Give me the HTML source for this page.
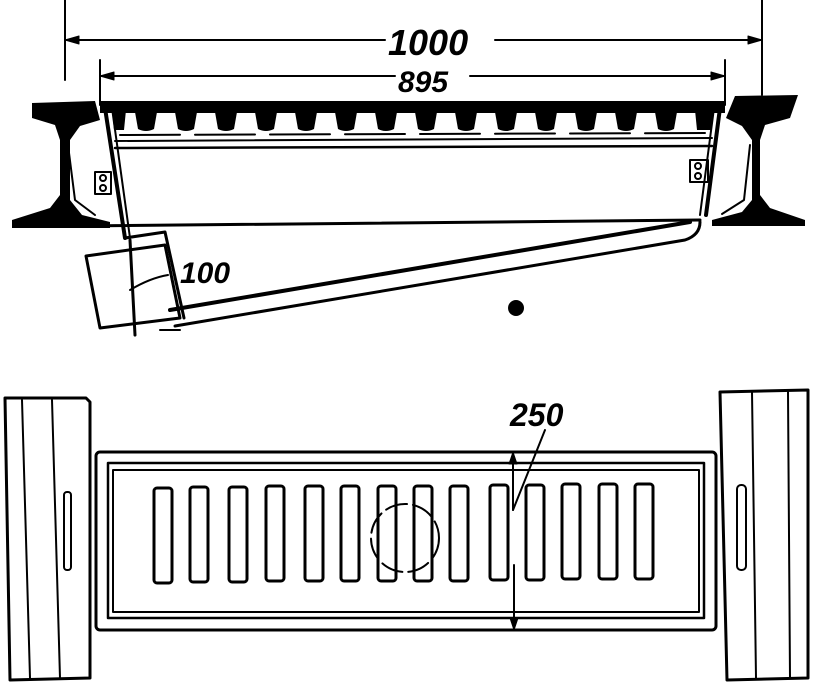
<!DOCTYPE html>
<html><head><meta charset="utf-8"><style>
html,body{margin:0;padding:0;background:#fff;}
svg{display:block;}
text{font-family:"Liberation Sans",sans-serif;font-style:italic;font-weight:bold;fill:#000;}
</style></head><body>
<svg width="816" height="690" viewBox="0 0 816 690" xmlns="http://www.w3.org/2000/svg" fill="none" stroke="#000" stroke-linecap="round" stroke-linejoin="round">
<!-- dimension 1000 -->
<line x1="65" y1="0" x2="65" y2="80" stroke-width="2"/>
<line x1="762" y1="0" x2="762" y2="95" stroke-width="2"/>
<line x1="65" y1="40" x2="385" y2="40" stroke-width="2"/>
<line x1="495" y1="40" x2="762" y2="40" stroke-width="2"/>
<path d="M65 40 l14 -4 v8z M762 40 l-14 -4 v8z" fill="#000"/>
<text x="388" y="55" font-size="36" stroke="none">1000</text>
<!-- dimension 895 -->
<line x1="100" y1="60" x2="100" y2="105" stroke-width="2"/>
<line x1="725" y1="60" x2="725" y2="105" stroke-width="2"/>
<line x1="100" y1="76" x2="395" y2="76" stroke-width="2"/>
<line x1="470" y1="76" x2="725" y2="76" stroke-width="2"/>
<path d="M100 76 l14 -4 v8z M725 76 l-14 -4 v8z" fill="#000"/>
<text x="398" y="92" font-size="30" stroke="none">895</text>
<!-- grate top bar with teeth -->
<g fill="#000" stroke="none">
<rect x="100" y="101" width="625" height="12"/>
<path d="M112 110 h14 l-2 20 h-10z"/>
<path d="M135 112 h22 l-3 17 q-8 4 -16 0z"/>
<path d="M175 112 h22 l-3 17 q-8 4 -16 0z"/>
<path d="M215 112 h22 l-3 17 q-8 4 -16 0z"/>
<path d="M255 112 h22 l-3 17 q-8 4 -16 0z"/>
<path d="M295 112 h22 l-3 17 q-8 4 -16 0z"/>
<path d="M335 112 h22 l-3 17 q-8 4 -16 0z"/>
<path d="M375 112 h22 l-3 17 q-8 4 -16 0z"/>
<path d="M415 112 h22 l-3 17 q-8 4 -16 0z"/>
<path d="M455 112 h22 l-3 17 q-8 4 -16 0z"/>
<path d="M495 112 h22 l-3 17 q-8 4 -16 0z"/>
<path d="M535 112 h22 l-3 17 q-8 4 -16 0z"/>
<path d="M575 112 h22 l-3 17 q-8 4 -16 0z"/>
<path d="M615 112 h22 l-3 17 q-8 4 -16 0z"/>
<path d="M655 112 h22 l-3 17 q-8 4 -16 0z"/>
<path d="M695 110 h18 l-2 20 h-14z"/>
</g>
<!-- inner frame lines -->
<line x1="120" y1="135" x2="705" y2="133" stroke-width="2" stroke-dasharray="60 15"/>
<line x1="115" y1="141" x2="712" y2="138" stroke-width="2"/>
<line x1="115" y1="148" x2="712" y2="146" stroke-width="2.5"/>
<line x1="80" y1="226" x2="700" y2="220" stroke-width="3"/>
<!-- left rail -->
<path d="M12 220 L50 208 L60 195 L60 140 L55 125 L32 118 L32 103 L95 101 L100 120 L80 126 L70 140 L70 200 L82 215 L110 222 L110 228 L12 228z" fill="#000" stroke="none"/>
<path d="M68 145 L75 200 L95 215" stroke-width="2"/>
<!-- right rail -->
<path d="M805 220 L770 208 L760 195 L760 140 L765 125 L790 118 L798 95 L735 96 L726 118 L742 126 L752 140 L752 200 L742 212 L712 220 L712 226 L805 226z" fill="#000" stroke="none"/>
<path d="M750 145 L744 200 L722 214" stroke-width="2"/>
<!-- left hanger -->
<path d="M105 108 L125 238" stroke-width="4"/>
<path d="M112 108 L130 238" stroke-width="2"/>
<rect x="95" y="172" width="16" height="22" stroke-width="2"/>
<circle cx="103" cy="178" r="3" stroke-width="2"/><circle cx="103" cy="188" r="3" stroke-width="2"/>
<!-- right hanger -->
<path d="M720 108 L706 215" stroke-width="4"/>
<path d="M714 108 L700 215" stroke-width="2"/>
<rect x="690" y="160" width="18" height="22" stroke-width="2"/>
<circle cx="698" cy="166" r="3" stroke-width="2"/><circle cx="698" cy="176" r="3" stroke-width="2"/>
<!-- tray -->
<path d="M170 310 L690 222" stroke-width="4"/>
<path d="M175 326 L685 240 Q700 235 700 222" stroke-width="3"/>
<path d="M160 330 L180 330" stroke-width="2"/>
<!-- box 100 -->
<path d="M86 256 L165 245 L180 318 L100 328z" stroke-width="3"/>
<path d="M125 238 L165 232 L184 318" stroke-width="3"/>
<path d="M130 240 L135 335" stroke-width="3"/>
<path d="M130 290 Q150 278 168 275" stroke-width="2"/>
<text x="180" y="283" font-size="30" stroke="none">100</text>
<circle cx="516" cy="308" r="8" fill="#000" stroke="none"/>
<!-- bottom plan: rails -->
<path d="M5 398 L86 398 L90 402 L90 678 L10 680 Z" stroke-width="3"/>
<line x1="22" y1="400" x2="30" y2="678" stroke-width="2"/>
<line x1="52" y1="400" x2="60" y2="678" stroke-width="2"/>
<rect x="64" y="492" width="7" height="78" rx="3" stroke-width="2"/>
<path d="M720 392 L808 390 L808 678 L727 680 Z" stroke-width="3"/>
<line x1="752" y1="392" x2="756" y2="678" stroke-width="2"/>
<line x1="788" y1="392" x2="790" y2="678" stroke-width="2"/>
<rect x="737" y="485" width="9" height="85" rx="4" stroke-width="2"/>
<!-- frame -->
<rect x="96" y="452" width="620" height="178" rx="4" stroke-width="3"/>
<rect x="108" y="463" width="596" height="155" stroke-width="2.5"/>
<rect x="113" y="470" width="586" height="142" stroke-width="2"/>
<!-- slots -->
<g stroke-width="3">
<rect x="154" y="488" width="18" height="95" rx="3"/>
<rect x="190" y="487" width="18" height="95" rx="3"/>
<rect x="229" y="487" width="18" height="95" rx="3"/>
<rect x="266" y="486" width="18" height="95" rx="3"/>
<rect x="305" y="486" width="18" height="95" rx="3"/>
<rect x="341" y="486" width="18" height="95" rx="3"/>
<rect x="378" y="486" width="18" height="95" rx="3"/>
<rect x="414" y="486" width="18" height="95" rx="3"/>
<rect x="450" y="486" width="18" height="95" rx="3"/>
<rect x="490" y="485" width="18" height="95" rx="3"/>
<rect x="526" y="485" width="18" height="95" rx="3"/>
<rect x="562" y="484" width="18" height="95" rx="3"/>
<rect x="599" y="484" width="18" height="95" rx="3"/>
<rect x="635" y="484" width="18" height="95" rx="3"/>
</g>
<circle cx="405" cy="538" r="34" stroke-width="2" stroke-dasharray="22 6"/>
<!-- dimension 250 -->
<line x1="513" y1="452" x2="513" y2="510" stroke-width="2"/>
<line x1="514" y1="565" x2="514" y2="630" stroke-width="2"/>
<path d="M513 452 l-4 12 h8z M514 630 l-4 -12 h8z" fill="#000"/>
<line x1="545" y1="430" x2="513" y2="510" stroke-width="2"/>
<text x="510" y="426" font-size="32" stroke="none">250</text>
</svg>
</body></html>
